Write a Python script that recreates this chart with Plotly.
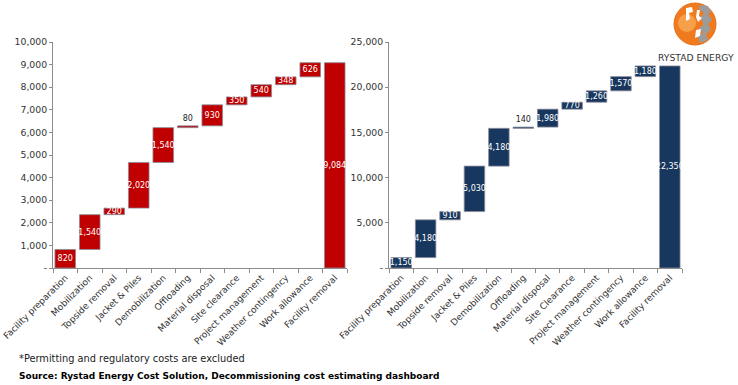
import plotly.graph_objects as go

# ---------------- data ----------------
cats_left = ["Facility preparation", "Mobilization", "Topside removal", "Jacket & Piles",
             "Demobilization", "Offloading", "Material disposal", "Site clearance",
             "Project management", "Weather contingency", "Work allowance", "Facility removal"]
vals_left = [820, 1540, 290, 2020, 1540, 80, 930, 350, 540, 348, 626]

cats_right = ["Facility preparation", "Mobilization", "Topside removal", "Jacket & Piles",
              "Demobilization", "Offloading", "Material disposal", "Site Clearance",
              "Project management", "Weather contingency", "Work allowance", "Facility removal"]
vals_right = [1150, 4180, 910, 5030, 4180, 140, 1980, 770, 1260, 1570, 1180]

yticks_left = [0, 1000, 2000, 3000, 4000, 5000, 6000, 7000, 8000, 9000, 10000]
yticklabels_left = ["-", "1,000", "2,000", "3,000", "4,000", "5,000", "6,000", "7,000", "8,000", "9,000", "10,000"]
yticks_right = [0, 5000, 10000, 15000, 20000, 25000]
yticklabels_right = ["-", "5,000", "10,000", "15,000", "20,000", "25,000"]

outside_labels_left = ["Offloading"]
outside_labels_right = ["Offloading"]

RED = "#C00000"
NAVY = "#17375E"
FONT = "DejaVu Sans"
AXIS = "#8C8C8C"
EDGE = "#8A8A9A"

W, H = 738, 385
TOP, BOT = 42, 268


def wf(cats, vals, color, xa, ya, outside):
    total = sum(vals)
    y = vals + [total]
    measure = ["relative"] * len(vals) + ["total"]
    text = [f"{v:,}" for v in y]
    pos = ["outside" if c in outside else "inside" for c in cats]
    mk = dict(marker=dict(color=color, line=dict(color=EDGE, width=0.8)))
    return go.Waterfall(
        x=cats, y=y, measure=measure, text=text, textposition=pos,
        textangle=0, insidetextanchor="middle",
        insidetextfont=dict(family=FONT, size=8, color="white"),
        outsidetextfont=dict(family=FONT, size=8, color="#222"),
        increasing=mk, decreasing=mk, totals=mk,
        connector=dict(visible=False),
        cliponaxis=False,
        xaxis=xa, yaxis=ya, showlegend=False, hoverinfo="x+y",
    )


fig = go.Figure()
fig.add_trace(wf(cats_left, vals_left, RED, "x", "y", outside_labels_left))
fig.add_trace(wf(cats_right, vals_right, NAVY, "x2", "y2", outside_labels_right))

xcommon = dict(type="category", showline=True, linecolor=AXIS, linewidth=1,
               ticks="outside", tickson="boundaries", ticklen=4, tickcolor=AXIS,
               tickangle=-45, tickfont=dict(family=FONT, size=9, color="#333"),
               showgrid=False, zeroline=False, fixedrange=True, automargin=False)
ycommon = dict(showline=True, linecolor=AXIS, linewidth=1, ticks="outside", ticklen=3,
               tickcolor=AXIS, tickfont=dict(family=FONT, size=9.3, color="#333"),
               showgrid=False, zeroline=False, fixedrange=True, automargin=False)

fig.update_layout(
    width=W, height=H,
    margin=dict(l=0, r=0, t=TOP, b=H - BOT, autoexpand=False),
    paper_bgcolor="white", plot_bgcolor="white",
    waterfallgap=0.16,
    uniformtext=dict(minsize=8, mode="show"),
    font=dict(family=FONT, color="#333"),
    xaxis=dict(domain=[53 / W, 347 / W], anchor="y", **xcommon),
    yaxis=dict(domain=[0, 1], anchor="x", range=[0, 10000],
               tickvals=yticks_left, ticktext=yticklabels_left, **ycommon),
    xaxis2=dict(domain=[389 / W, 682 / W], anchor="y2", **xcommon),
    yaxis2=dict(domain=[0, 1], anchor="x2", range=[0, 25000],
                tickvals=yticks_right, ticktext=yticklabels_right, **ycommon),
)


def py(px):  # pixel y -> paper y
    return (BOT - px) / (BOT - TOP)


def pth(points):
    return "M " + " L ".join(f"{x / W} {py(y)}" for x, y in points) + " Z"


# footnotes
fig.add_annotation(xref="paper", yref="paper", xanchor="left", yanchor="middle",
                   x=17 / W, y=py(358),
                   text="*Permitting and regulatory costs are excluded",
                   showarrow=False, font=dict(family=FONT, size=9.8, color="#222"))
fig.add_annotation(xref="paper", yref="paper", xanchor="left", yanchor="middle",
                   x=17 / W, y=py(376),
                   text="<b>Source: Rystad Energy Cost Solution, Decommissioning cost estimating dashboard</b>",
                   showarrow=False, font=dict(family=FONT, size=9, color="#000"))

# logo (decorative globe)
fig.add_shape(type="circle", xref="paper", yref="paper",
              x0=674 / W, x1=716 / W, y0=py(45), y1=py(3),
              fillcolor="#F07A1E", line=dict(color="#E8701A", width=1))
fig.add_shape(type="circle", xref="paper", yref="paper",
              x0=678 / W, x1=696 / W, y0=py(32), y1=py(14),
              fillcolor="#F6A04A", line=dict(width=0))
fig.add_shape(type="path", xref="paper", yref="paper",
              path=pth([(700, 5), (708, 6), (711, 12), (708, 14), (712, 20), (708, 24),
                        (711, 30), (706, 34), (708, 40), (700, 43), (698, 36), (703, 33),
                        (699, 28), (704, 24), (700, 18), (704, 13), (699, 9)]),
              fillcolor="#9C9C9C", line=dict(width=0))
fig.add_shape(type="path", xref="paper", yref="paper",
              path=pth([(686, 8), (692, 7), (693, 12), (689, 13), (690, 19), (686, 21)]),
              fillcolor="white", line=dict(width=0))
fig.add_shape(type="path", xref="paper", yref="paper",
              path=pth([(697, 10), (700, 10), (699, 16), (702, 18), (698, 22), (696, 17)]),
              fillcolor="white", line=dict(width=0))
fig.add_shape(type="path", xref="paper", yref="paper",
              path=pth([(696, 30), (701, 29), (700, 36), (695, 38)]),
              fillcolor="white", line=dict(width=0))
fig.add_annotation(xref="paper", yref="paper", xanchor="right", yanchor="middle",
                   x=736 / W, y=py(57), text="RYSTAD ENERGY", showarrow=False,
                   font=dict(family=FONT, size=9.2, color="#333"))

fig.write_html("out.html", config={"displayModeBar": False},
               post_script="document.body.style.margin='0';document.body.style.overflow='hidden';")
